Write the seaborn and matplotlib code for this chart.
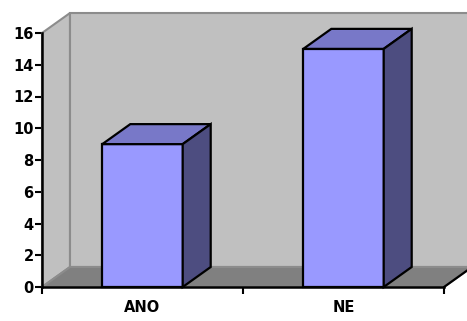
import matplotlib
matplotlib.use("Agg")
import matplotlib.pyplot as plt
from matplotlib.patches import Polygon
import seaborn as sns
import pandas as pd

categories = ["ANO", "NE"]
values = [9, 15]
y_ticks = [0, 2, 4, 6, 8, 10, 12, 14, 16]

sns.set_style("white")
plt.rcParams["font.family"] = ["DejaVu Sans"]

W, H = 467, 321
fig = plt.figure(figsize=(W / 100, H / 100), dpi=100)
fig.patch.set_facecolor("white")
# front plane of the 3-D box, in pixels: x 42..444, y 33..287
ax = fig.add_axes([42 / W, (H - 287) / H, 402 / W, 254 / H])

df = pd.DataFrame({"cat": categories, "val": values})
sns.barplot(data=df, x="cat", y="val", color="#9999FF", saturation=1,
            width=0.4, edgecolor="black", linewidth=1.6, ax=ax, zorder=5)

ax.set_xlim(-0.5, 1.5)
ax.set_ylim(0, 16)

# depth offset of the box in data units
px_x = 2 / 402
px_y = 16 / 254
dx, dy = 28 * px_x, 20 * px_y

x_left, x_right = -0.5, 1.5
wall_c, floor_c, frame_c = "#C0C0C0", "#808080", "#8C8C8C"

# side wall
ax.add_patch(Polygon([(x_left, 0), (x_left + dx, dy), (x_left + dx, 16 + dy), (x_left, 16)],
                     closed=True, facecolor=wall_c, edgecolor=frame_c, lw=1.5,
                     clip_on=False, zorder=1))
# back wall
far = x_right + dx + 0.3
ax.add_patch(Polygon([(x_left + dx, dy), (far, dy), (far, 16 + dy), (x_left + dx, 16 + dy)],
                     closed=True, facecolor=wall_c, edgecolor=frame_c, lw=1.5,
                     clip_on=False, zorder=1))
# floor
ax.add_patch(Polygon([(x_left, 0), (x_right, 0), (x_right + dx, dy), (x_left + dx, dy)],
                     closed=True, facecolor=floor_c, edgecolor=frame_c, lw=1.5,
                     clip_on=False, zorder=2))
ax.plot([x_right, x_right + dx], [0, dy], color="black", lw=1.6, clip_on=False, zorder=3)

# top and side faces of each bar
for p in list(ax.patches):
    if p.get_facecolor()[:3] != matplotlib.colors.to_rgb("#9999FF"):
        continue
    x0 = p.get_x()
    x1 = x0 + p.get_width()
    h = p.get_height()
    top = Polygon([(x0, h), (x1, h), (x1 + dx, h + dy), (x0 + dx, h + dy)], closed=True,
                  facecolor="#7878C8", edgecolor="black", lw=1.6, clip_on=False, zorder=6)
    side = Polygon([(x1, 0), (x1 + dx, dy), (x1 + dx, h + dy), (x1, h)], closed=True,
                   facecolor="#4D4D80", edgecolor="black", lw=1.6, clip_on=False, zorder=6)
    ax.add_patch(top)
    ax.add_patch(side)
    p.set_clip_on(False)

ax.set_facecolor("none")
for s in ax.spines.values():
    s.set_visible(False)
# value axis and category axis lines
ax.plot([x_left, x_left], [0, 16], color="black", lw=1.8, clip_on=False, zorder=8,
        solid_capstyle="projecting")
ax.plot([x_left, x_right], [0, 0], color="black", lw=1.8, clip_on=False, zorder=8,
        solid_capstyle="projecting")

ax.set_yticks(y_ticks)
ax.set_yticklabels([str(v) for v in y_ticks], fontsize=10.5, fontweight="bold", color="black")
ax.tick_params(axis="y", left=True, direction="out", length=5, width=1.5, color="black", pad=1)

ax.set_xticks([0, 1])
ax.set_xticklabels(categories, fontsize=10.5, fontweight="bold", color="black")
ax.set_xticks([-0.5, 0.5, 1.5], minor=True)
ax.tick_params(axis="x", which="major", bottom=True, length=0, pad=9)
ax.tick_params(axis="x", which="minor", bottom=True, direction="out", length=5, width=1.5,
               color="black")
ax.set_xlabel("")
ax.set_ylabel("")

fig.savefig("out.png", dpi=100)
